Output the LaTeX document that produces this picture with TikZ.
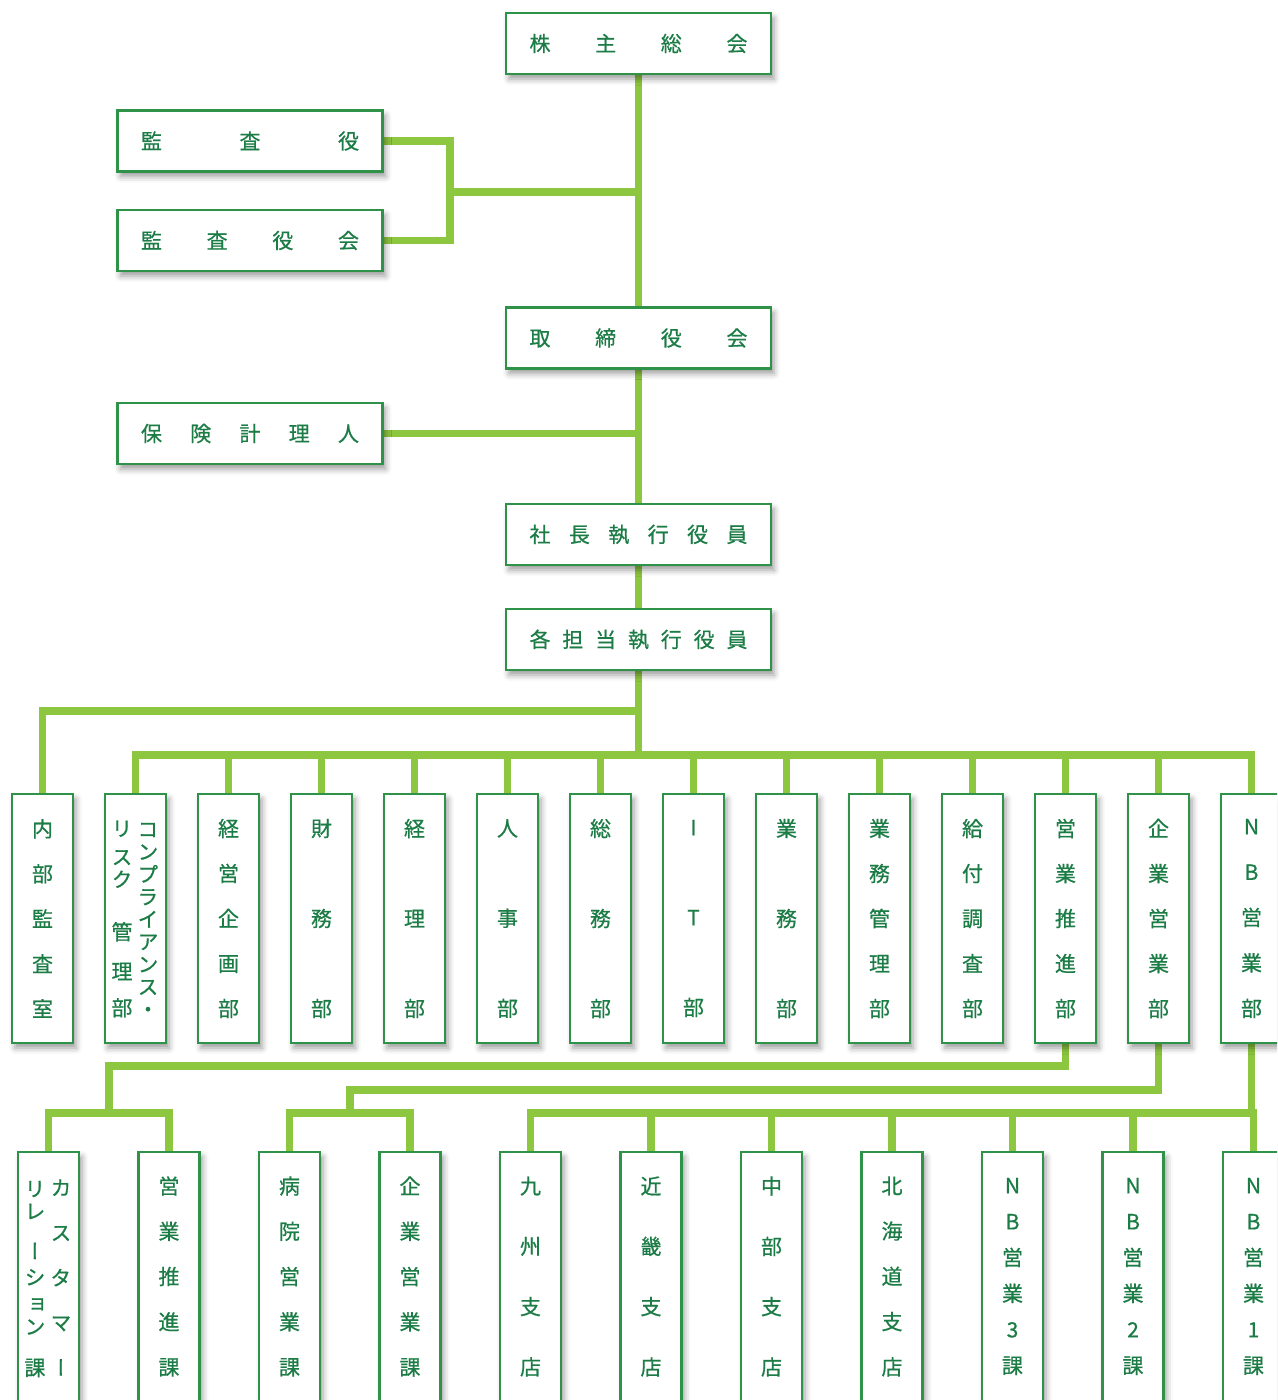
\documentclass[tikz,border=0pt]{standalone}
\usepackage{fontspec}
\setmainfont{Noto Sans CJK JP}[FakeBold=0.6]
\newfontfamily\jpv[RawFeature=+vert,FakeBold=0.6]{Noto Sans CJK JP}
\usetikzlibrary{shadows.blur,backgrounds}
\definecolor{conngreen}{RGB}{141,198,63}
\definecolor{bordgreen}{RGB}{46,146,72}
\definecolor{txtgreen}{RGB}{28,124,70}
\tikzset{
  orgbox/.style={draw=bordgreen, line width=2.5pt, fill=white, inner sep=0pt, text=txtgreen,
    blur shadow={shadow xshift=3pt, shadow yshift=-5pt, shadow blur radius=6pt, shadow opacity=40}},
  hbx/.style={orgbox, minimum width=265pt, minimum height=61pt, font=\fontsize{21}{21}\selectfont},
  vbx/.style={orgbox, minimum width=61pt, minimum height=249pt, align=center, font=\jpv\fontsize{21}{#1}\selectfont},
  coltext/.style={text=txtgreen, inner sep=0pt, align=center, font=\jpv\fontsize{21}{#1}\selectfont},
  connline/.style={draw=conngreen, line width=7.5pt, line cap=rect},
}
\newcommand\spreadtxt[1]{\makebox[218pt][s]{#1}}
\begin{document}
\begin{tikzpicture}[x=1pt,y=-1pt]
\useasboundingbox (0,0) rectangle (1277,1400);
\begin{scope}[on background layer]
\fill[white] (0,0) rectangle (1277,1400);
\end{scope}
% off-page warm-up shadow (outside the visible page)
\node[orgbox, minimum width=20pt, minimum height=20pt] (warmup) at (-300,-300) {};
\clip (0,0) rectangle (1277,1400);
% top boxes
\node[hbx] (kabu) at (638.5,43.5) {\spreadtxt{株\hfill 主\hfill 総\hfill 会}};
\node[hbx] (kansa) at (250,141) {\spreadtxt{監\hfill 査\hfill 役}};
\node[hbx] (kansakai) at (250,240.5) {\spreadtxt{監\hfill 査\hfill 役\hfill 会}};
\node[hbx] (tori) at (638.5,338) {\spreadtxt{取\hfill 締\hfill 役\hfill 会}};
\node[hbx] (hoken) at (250,433.5) {\spreadtxt{保\hfill 険\hfill 計\hfill 理\hfill 人}};
\node[hbx] (shacho) at (638.5,534.5) {\spreadtxt{社\hfill 長\hfill 執\hfill 行\hfill 役\hfill 員}};
\node[hbx] (kakutan) at (638.5,639.5) {\spreadtxt{各\hfill 担\hfill 当\hfill 執\hfill 行\hfill 役\hfill 員}};
% row 1
\node[vbx=45] (naibu) at (42.5,918.5) {内\\部\\監\\査\\室};
\node[vbx=45] (compl) at (135.5,918.5) {};
\node[coltext=22.5] (complr) at (148,920) {コ\\ン\\プ\\ラ\\イ\\ア\\ン\\ス\\・};
\node[coltext=22.5] (compll) at (122,919) {リ\\[6pt]ス\\ク\\[30pt]管\\[17pt]理\\[14pt]部};
\node[vbx=45] (keiei) at (228.5,918.5) {経\\営\\企\\画\\部};
\node[vbx=90] (zaimu) at (321.5,918.5) {財\\務\\部};
\node[vbx=90] (keiri) at (414.5,918.5) {経\\理\\部};
\node[vbx=90] (jinji) at (507.5,918.5) {人\\事\\部};
\node[vbx=90] (somu) at (600.5,918.5) {総\\務\\部};
\node[vbx=90] (it) at (693.5,918.5) {I\\T\\部};
\node[vbx=90] (gyomu) at (786.5,918.5) {業\\務\\部};
\node[vbx=45] (gkanri) at (879.5,918.5) {業\\務\\管\\理\\部};
\node[vbx=45] (kyufu) at (972.5,918.5) {給\\付\\調\\査\\部};
\node[vbx=45] (eisui) at (1065.5,918.5) {営\\業\\推\\進\\部};
\node[vbx=45] (kigyo) at (1158.5,918.5) {企\\業\\営\\業\\部};
\node[vbx=45.5] (nbbu) at (1251.5,918.5) {N\\B\\営\\業\\部};
% row 2
\node[vbx=45] (cr) at (48.5,1276.5) {};
\node[coltext=45] (crr) at (61,1277.5) {カ\\ス\\タ\\マ\\ー};
\node[coltext=22.5] (crl) at (35,1279) {リ\\レ\\[17.5pt]ー\\[3.5pt]シ\\[4.5pt]ョ\\ン\\[18.5pt]課};
\node[vbx=45.25] (eisuika) at (169,1276.5) {営\\業\\推\\進\\課};
\node[vbx=45.25] (byoin) at (289.5,1276.5) {病\\院\\営\\業\\課};
\node[vbx=45.25] (kigyoka) at (410,1276.5) {企\\業\\営\\業\\課};
\node[vbx=60.3] (kyushu) at (530.5,1276.5) {九\\州\\支\\店};
\node[vbx=60.3] (kinki) at (651,1276.5) {近\\畿\\支\\店};
\node[vbx=60.3] (chubu) at (771.5,1276.5) {中\\部\\支\\店};
\node[vbx=45.25] (hokkai) at (892,1276.5) {北\\海\\道\\支\\店};
\node[vbx=36] (nb3) at (1012.5,1276.5) {N\\B\\営\\業\\3\\課};
\node[vbx=36] (nb2) at (1133,1276.5) {N\\B\\営\\業\\2\\課};
\node[vbx=36] (nb1) at (1253.5,1276.5) {N\\B\\営\\業\\1\\課};
% junctions
\coordinate (brk) at (450,192);
\coordinate (j711) at (0,711);
\coordinate (bus1) at (0,755);
\coordinate (h1) at (109,1066);
\coordinate (h2) at (350,1090);
\coordinate (bus2) at (0,1113);
\begin{scope}[on background layer]
\draw[connline] (kabu.south) -- (tori.north);
\draw[connline] (tori.south) -- (shacho.north);
\draw[connline] (shacho.south) -- (kakutan.north);
\draw[connline] (kakutan.south) -- (kakutan.south |- bus1);
\draw[connline] (kansa.east) -| (brk) |- (kansakai.east);
\draw[connline] (brk) -- (brk -| kabu.south);
\draw[connline] (hoken.east) -- (hoken.east -| kabu.south);
\draw[connline] (kakutan.south |- j711) -| (naibu.north);
\draw[connline] (compl.north |- bus1) -- (nbbu.north |- bus1);
\foreach \n in {compl,keiei,zaimu,keiri,jinji,somu,it,gyomu,gkanri,kyufu,eisui,kigyo,nbbu}
  \draw[connline] (\n.north) -- (\n.north |- bus1);
\draw[connline] (eisui.south) |- (h1) -- (h1 |- bus2);
\draw[connline] (cr.north |- bus2) -- (eisuika.north |- bus2);
\draw[connline] (kigyo.south) |- (h2) -- (h2 |- bus2);
\draw[connline] (byoin.north |- bus2) -- (kigyoka.north |- bus2);
\draw[connline] (nbbu.south) -- (nbbu.south |- bus2);
\draw[connline] (kyushu.north |- bus2) -- (nb1.north |- bus2);
\foreach \n in {cr,eisuika,byoin,kigyoka,kyushu,kinki,chubu,hokkai,nb3,nb2,nb1}
  \draw[connline] (\n.north) -- (\n.north |- bus2);
\end{scope}
\end{tikzpicture}
\end{document}
